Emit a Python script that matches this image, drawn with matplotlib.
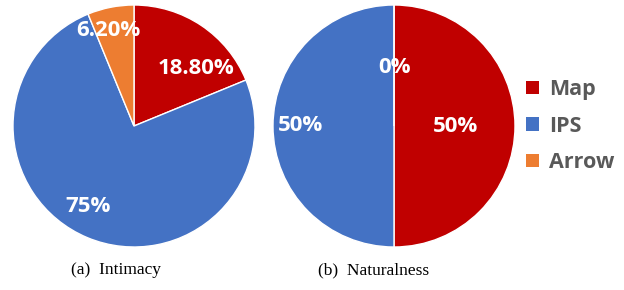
import matplotlib
matplotlib.use("Agg")
import matplotlib.pyplot as plt
import numpy as np
from matplotlib.patches import Patch

# Data
categories = ["Map", "IPS", "Arrow"]
intimacy = [18.8, 75.0, 6.2]
intimacy_labels = ["18.80%", "75%", "6.20%"]
naturalness = [50.0, 50.0, 0.0]
naturalness_labels = ["50%", "50%", "0%"]
captions = ["(a)  Intimacy", "(b)  Naturalness"]

COLORS = ["#C00000", "#4472C4", "#ED7D31"]
LABEL_FONT = "Open Sans"

W, H = 624, 290
fig = plt.figure(figsize=(W / 100, H / 100), dpi=100)


def draw_pie(cx, cy, r, values, labels, label_dist, caption, cap_x):
    ax = fig.add_axes([(cx - r) / W, (H - cy - r) / H, 2 * r / W, 2 * r / H])
    wedges, _ = ax.pie(values, colors=COLORS, startangle=90, counterclock=False,
                       wedgeprops=dict(edgecolor="white", linewidth=1.0))
    for w, lab, d in zip(wedges, labels, label_dist):
        ang = np.deg2rad((w.theta1 + w.theta2) / 2 + d[1])
        ax.text(d[0] * np.cos(ang), d[0] * np.sin(ang),
                lab, ha="center", va="center", color="white", fontsize=16,
                fontweight="bold", family=LABEL_FONT)
    ax.set_xlim(-1, 1)
    ax.set_ylim(-1, 1)
    ax.set_aspect("equal")
    ax.axis("off")
    fig.text(cap_x / W, 1 - 270 / H, caption, ha="center", va="center",
             fontsize=12.5, family="Liberation Serif")


# (radius fraction, angle tweak in degrees) for each label
draw_pie(134, 126, 121, intimacy, intimacy_labels,
         [(0.70, -13), (0.77, -7), (0.82, 4)], captions[0], 116)
draw_pie(394, 126, 121, naturalness, naturalness_labels,
         [(0.51, 0), (0.77, 0), (0.48, 0)], captions[1], 374)

handles = [Patch(facecolor=c, edgecolor="none") for c in COLORS]
leg = fig.legend(handles, categories, loc="center left", bbox_to_anchor=(507 / W, 1 - 126 / H),
                 frameon=False, handlelength=0.6, handleheight=0.6, handletextpad=0.45,
                 labelspacing=0.72,
                 prop=dict(family=LABEL_FONT, weight="bold", size=15.5))
for t in leg.get_texts():
    t.set_color("#595959")

fig.savefig("out.png", dpi=100)
